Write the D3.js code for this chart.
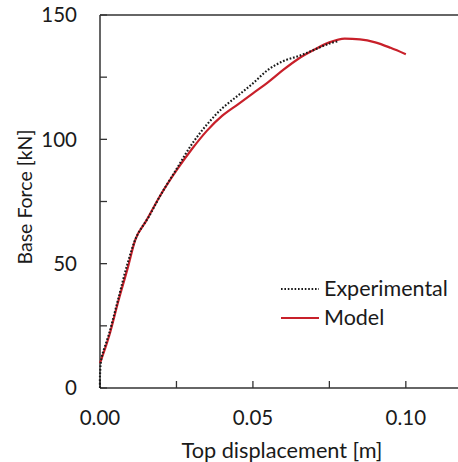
<!DOCTYPE html>
<html lang="en">
<head>
<meta charset="UTF-8">
<title>Base force vs top displacement</title>
<script src="https://d3js.org/d3.v7.min.js"></script>
<style>
  body { margin: 0; background: #fff; }
  text { font-family: Lato, "Open Sans", sans-serif; fill: #1a1a1a; }
</style>
</head>
<body>
<div id="chart"></div>
<script>
// experimental curve [displacement m, force kN]
var experimental = [
    [0, 0], [0, 5], [0.0005, 12], [0.003, 22], [0.006, 36], [0.009, 50],
    [0.012, 61], [0.016, 69], [0.02, 78], [0.025, 88], [0.03, 98],
    [0.035, 106], [0.04, 112.5], [0.045, 117.5], [0.05, 122.5], [0.055, 128],
    [0.06, 131.5], [0.065, 133.5], [0.07, 136], [0.075, 138.5], [0.078, 139.5]
];
// model curve
var model = [
    [0, 10], [0.003, 21], [0.006, 35], [0.009, 48], [0.0115, 59.5], [0.015, 67],
    [0.02, 78], [0.025, 87.5], [0.03, 96], [0.035, 103.5], [0.04, 109.5],
    [0.045, 114], [0.05, 118.5], [0.055, 123], [0.06, 128], [0.065, 132.5],
    [0.07, 136], [0.075, 139], [0.08, 140.5], [0.085, 140.2], [0.09, 139],
    [0.095, 136.8], [0.1, 134.2]
];
var xTicks = [0, 0.025, 0.05, 0.075, 0.1];
var xLabels = [0, 0.05, 0.1];
var yTicks = [0, 25, 50, 75, 100, 125, 150];
var yLabels = [0, 50, 100, 150];

var w = 458, h = 462;
var svg = d3.select("#chart").append("svg")
    .attr("width", w)
    .attr("height", h);

var x = d3.scaleLinear().domain([0, 0.12]).range([100, 467]);
var y = d3.scaleLinear().domain([0, 150]).range([388, 15]);

var axisColor = "#333";

// frame: left, bottom, top
svg.append("line").attr("x1", x(0)).attr("x2", x(0)).attr("y1", y(150)).attr("y2", y(0))
    .attr("stroke", axisColor).attr("stroke-width", 1.5);
svg.append("line").attr("x1", x(0)).attr("x2", w).attr("y1", y(0)).attr("y2", y(0))
    .attr("stroke", axisColor).attr("stroke-width", 1.5);
svg.append("line").attr("x1", x(0)).attr("x2", w).attr("y1", y(150)).attr("y2", y(150))
    .attr("stroke", axisColor).attr("stroke-width", 1.5);

// ticks pointing inward
svg.selectAll(".xt").data(xTicks).enter().append("line")
    .attr("x1", function(d) { return x(d); })
    .attr("x2", function(d) { return x(d); })
    .attr("y1", y(0))
    .attr("y2", y(0) - 7)
    .attr("stroke", axisColor).attr("stroke-width", 1.3);
svg.selectAll(".yt").data(yTicks).enter().append("line")
    .attr("x1", x(0))
    .attr("x2", x(0) + 7)
    .attr("y1", function(d) { return y(d); })
    .attr("y2", function(d) { return y(d); })
    .attr("stroke", axisColor).attr("stroke-width", 1.3);

svg.selectAll(".xl").data(xLabels).enter().append("text")
    .attr("x", function(d) { return x(d); })
    .attr("y", 425)
    .attr("text-anchor", "middle")
    .style("font-size", "20.5px")
    .text(function(d) { return d3.format(".2f")(d); });
svg.selectAll(".yl").data(yLabels).enter().append("text")
    .attr("x", 77)
    .attr("y", function(d) { return y(d); })
    .attr("dy", "0.36em")
    .attr("text-anchor", "end")
    .style("font-size", "20.5px")
    .text(function(d) { return d; });

svg.append("text")
    .attr("x", 282).attr("y", 458)
    .attr("text-anchor", "middle")
    .style("font-size", "21.7px")
    .text("Top displacement [m]");
svg.append("text")
    .attr("transform", "translate(32,197) rotate(-90)")
    .attr("text-anchor", "middle")
    .style("font-size", "19.5px")
    .text("Base Force [kN]");

var line = d3.line()
    .x(function(d) { return x(d[0]); })
    .y(function(d) { return y(d[1]); })
    .curve(d3.curveMonotoneX);

var red = "#c8202a";

svg.append("path").datum(model)
    .attr("d", line)
    .attr("fill", "none")
    .attr("stroke", red)
    .attr("stroke-width", 2.2);
svg.append("path").datum(experimental)
    .attr("d", d3.line()
        .x(function(d) { return x(d[0]); })
        .y(function(d) { return y(d[1]); })
        .curve(d3.curveCatmullRom))
    .attr("fill", "none")
    .attr("stroke", "#1a1a1a")
    .attr("stroke-width", 2.1)
    .attr("stroke-dasharray", "1.7,1.8");

// legend
var leg = svg.append("g");
leg.append("line").attr("x1", 281).attr("x2", 319).attr("y1", 289).attr("y2", 289)
    .attr("stroke", "#1a1a1a").attr("stroke-width", 2).attr("stroke-dasharray", "1.6,1.8");
leg.append("text").attr("x", 324).attr("y", 296).style("font-size", "21.5px").text("Experimental");
leg.append("line").attr("x1", 281).attr("x2", 319).attr("y1", 318).attr("y2", 318)
    .attr("stroke", red).attr("stroke-width", 2.2);
leg.append("text").attr("x", 324).attr("y", 325).style("font-size", "21.5px").text("Model");
</script>
</body>
</html>
